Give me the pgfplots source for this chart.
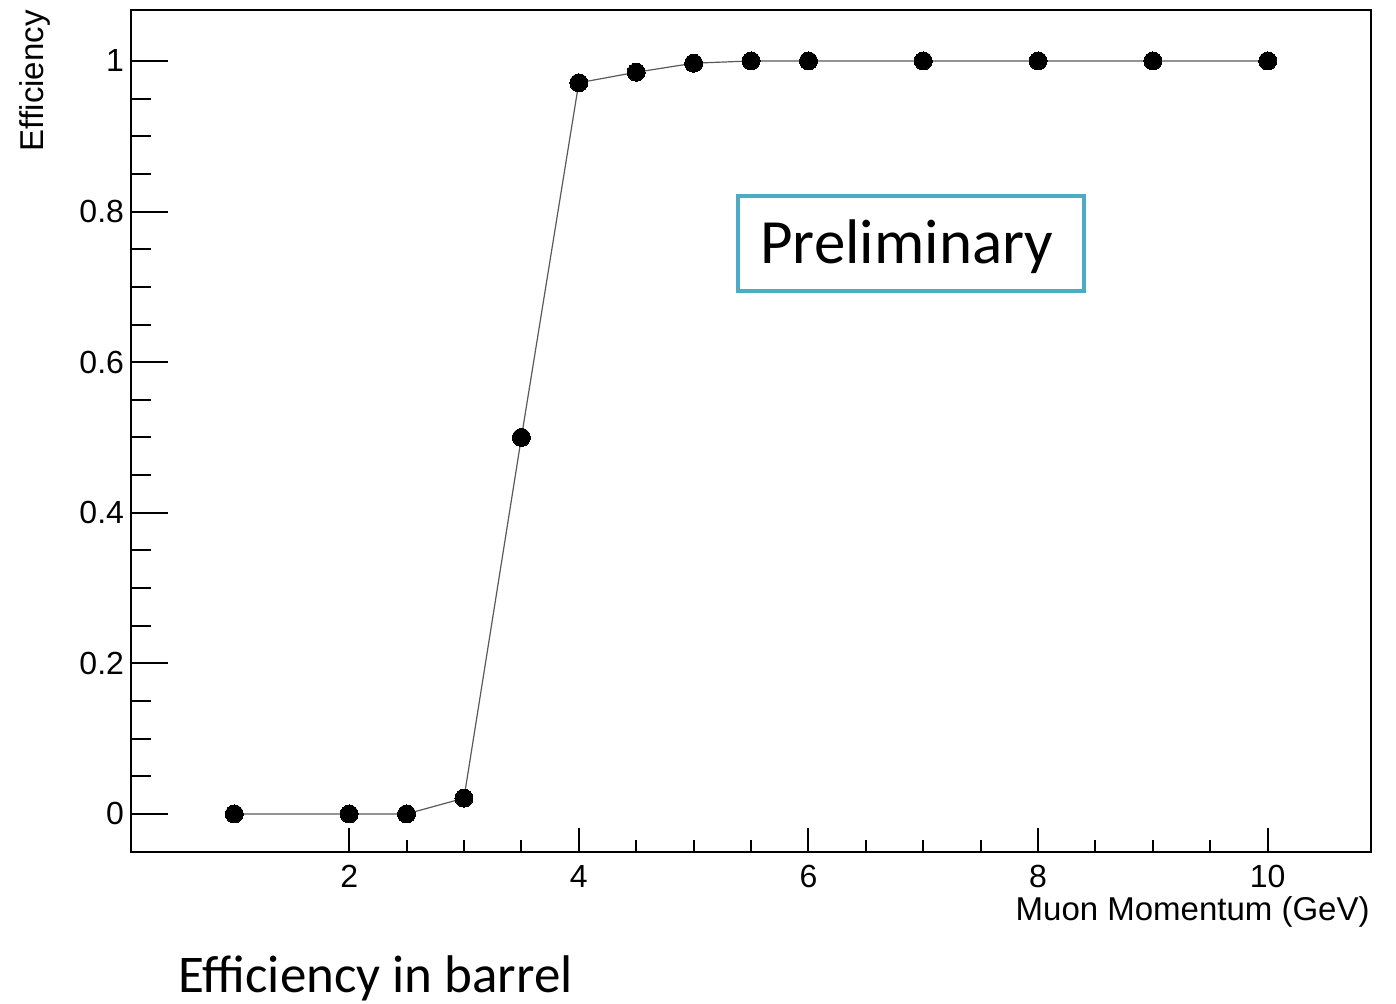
\documentclass[border=0pt]{standalone}
\usepackage{fontspec}
\setmainfont{Liberation Sans}
\newfontfamily\calibri{Carlito}
\usepackage{pgfplots}
\usepackage{pgfplotstable}
\pgfplotsset{compat=1.18}
\definecolor{prelimblue}{HTML}{4BACC6}

% muon reconstruction efficiency in the barrel vs. momentum
\pgfplotstableread{
p eff
1 0
2 0
2.5 0
3 0.021
3.5 0.5
4 0.971
4.5 0.985
5 0.997
5.5 1
6 1
7 1
8 1
9 1
10 1
}\effbarrel

\begin{document}
\begin{tikzpicture}[x=0.5bp,y=0.5bp]
\useasboundingbox (0,0) rectangle (1396,1003);
\pgfplotsset{
  frame/.style={
    at={(65.5bp,75.5bp)}, anchor=south west,
    scale only axis, width=620bp, height=421bp,
    xmin=0.1, xmax=10.9, ymin=-0.0505, ymax=1.0677,
    tick align=inside,
    axis line style={line width=1bp},
    every tick/.style={black, line width=1bp},
    ticklabel style={font=\fontsize{16bp}{19bp}\selectfont},
    /pgf/number format/assume math mode=true,
  }
}
% x axis ticks
\begin{axis}[frame,
  xtick={2,4,6,8,10}, minor x tick num=3, ytick=\empty,
  xtick pos=bottom,
  xticklabel style={yshift=-3bp},
  major tick length=12bp, minor tick length=6bp]
\end{axis}
% y axis ticks and the data
\begin{axis}[frame,
  ytick={0,0.2,0.4,0.6,0.8,1}, minor y tick num=3, xtick=\empty,
  ytick pos=left,
  major tick length=18.5bp, minor tick length=10bp]
\addplot[color=black!65, line width=0.6bp, mark=*,
  mark options={fill=black, draw=black, line width=0pt}, mark size=4.5bp]
  table[x=p, y=eff] {\effbarrel};
\end{axis}

\node[anchor=base east, inner sep=0, font=\fontsize{16.5bp}{19bp}\selectfont]
  at (1370,83) {Muon Momentum (GeV)};
\node[rotate=90, anchor=base east, inner sep=0, font=\fontsize{16.5bp}{19bp}\selectfont]
  at (43,993) {Efficiency};

\draw[prelimblue, line width=2bp] (738,807) rectangle (1084,712);
\node[anchor=base west, inner sep=0, font=\calibri\fontsize{31.5bp}{36bp}\selectfont]
  at (760,739) {Preliminary};

\node[anchor=base west, inner sep=0, font=\calibri\fontsize{26.5bp}{30bp}\selectfont]
  at (178,11) {Efficiency in barrel};
\end{tikzpicture}
\end{document}
